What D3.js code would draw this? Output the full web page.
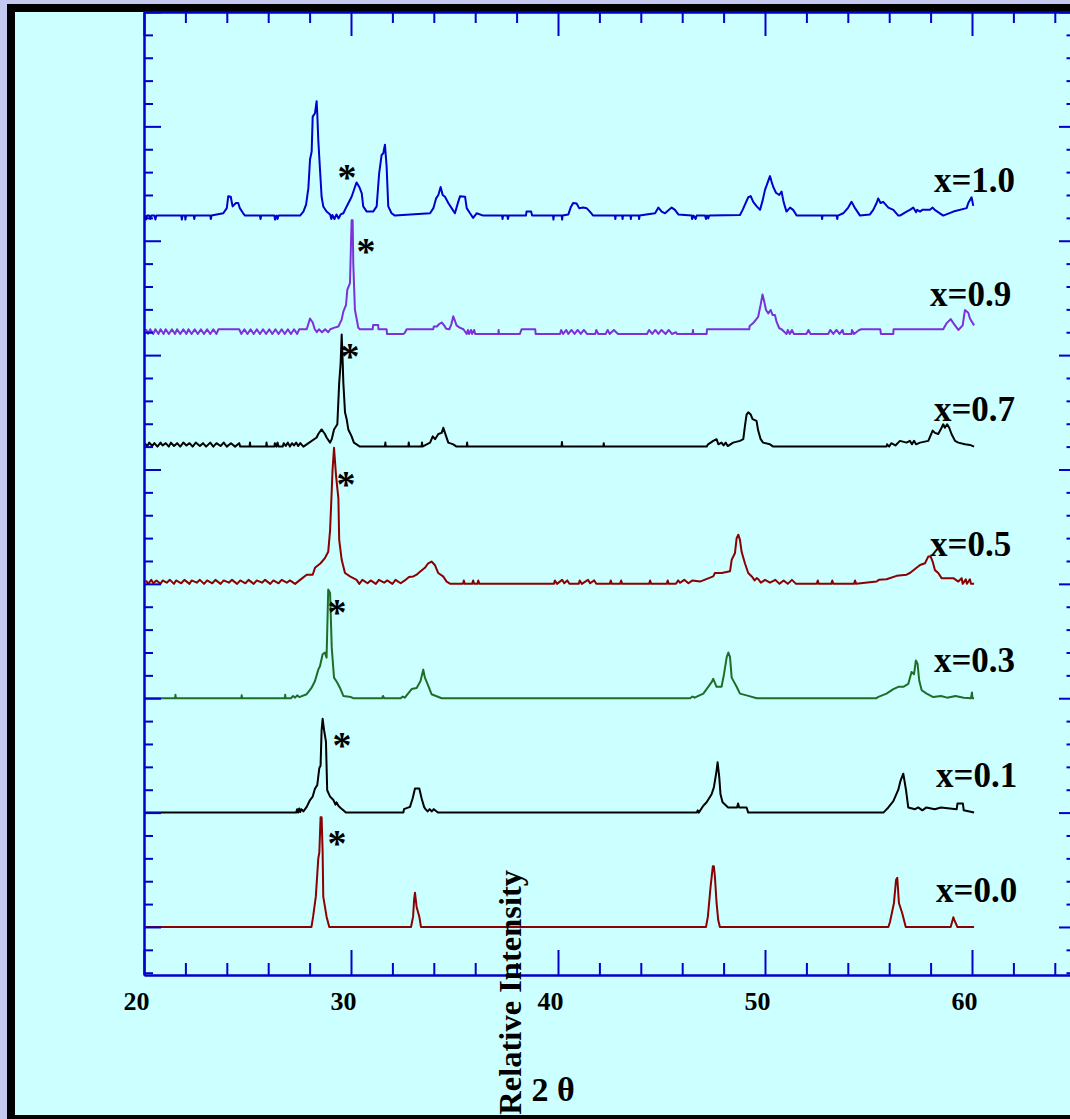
<!DOCTYPE html>
<html><head><meta charset="utf-8">
<script src="https://cdn.jsdelivr.net/npm/d3@7"></script>
<style>
html,body{margin:0;padding:0;background:#c6c9ef;overflow:hidden}
svg{display:block}
text{font-family:"Liberation Serif","Times New Roman",serif;}
</style></head><body>
<svg id="c" width="1070" height="1119"></svg>
<script>
// ---------- data ----------
const compositions = ["x=0.0","x=0.1","x=0.3","x=0.5","x=0.7","x=0.9","x=1.0"];
const offsets = [0, 1, 2, 3, 4.2, 5.2, 6.22];
const xTickLabels = [20, 30, 40, 50, 60];
const labelAt = [58.26, 58.26, 58.16, 57.97, 58.16, 57.97, 58.16];
const labelLift = [0.22, 0.22, 0.23, 0.245, 0.22, 0.23, 0.21];
const starAt = [[29.32,0.76],[29.57,0.615],[29.32,0.78],[29.76,0.90],[29.95,0.815],[30.72,0.74],[29.81,0.36]];

const xrd00 = [[20.05,0],[28.09,0],[28.17,0.09],[28.3,0.265],[28.42,0.6],[28.47,0.65],[28.53,0.96],[28.58,0.96],[28.63,0.65],[28.66,0.265],[28.82,0.09],[28.95,0],
[32.9,0],[33.0,0.09],[33.05,0.24],[33.09,0.3],[33.17,0.175],[33.3,0.09],[33.38,0],
[47.15,0],[47.24,0.09],[47.37,0.35],[47.48,0.53],[47.53,0.53],[47.58,0.44],[47.66,0.21],[47.74,0.06],[47.82,0],
[55.96,0],[56.04,0.045],[56.23,0.21],[56.33,0.41],[56.39,0.43],[56.47,0.21],[56.63,0.12],[56.8,0],
[58.97,0],[59.1,0.085],[59.15,0.06],[59.29,0],[60.1,0]];

const xrd01 = [[20.05,0],[27.35,0],[27.4,0.03],[27.45,0],[27.5,0.035],[27.55,0.005],[27.6,0.03],[27.7,0.01],[27.86,0.05],[28.02,0.11],[28.15,0.14],[28.26,0.21],[28.37,0.24],[28.47,0.39],[28.53,0.41],[28.58,0.72],[28.63,0.82],[28.7,0.72],[28.79,0.62],[28.85,0.195],[28.99,0.14],[29.15,0.11],[29.25,0.07],[29.3,0.09],[29.39,0.06],[29.5,0.04],[29.63,0.02],[29.75,0],
[32.53,0],[32.56,0.03],[32.85,0.05],[32.98,0.125],[33.09,0.21],[33.3,0.21],[33.41,0.125],[33.53,0.05],[33.6,0.03],[33.7,0.01],[33.8,0.03],[33.9,0.01],[34.0,0.03],[34.2,0],
[46.7,0],[46.75,0.02],[46.8,0],[47.02,0.06],[47.18,0.09],[47.42,0.16],[47.53,0.22],[47.66,0.365],[47.71,0.44],[47.79,0.31],[47.85,0.16],[47.95,0.09],[48.22,0.045],[48.65,0.045],[48.7,0.08],[48.75,0.045],[49.11,0.045],[49.19,0],
[55.72,0],[55.8,0.015],[55.96,0.045],[56.2,0.1],[56.44,0.2],[56.55,0.28],[56.68,0.34],[56.81,0.2],[56.92,0.045],[57.25,0.03],[57.4,0.045],[57.6,0.02],[57.8,0.045],[58.2,0.03],[58.5,0.045],[59.26,0.03],[59.3,0.08],[59.56,0.08],[59.6,0.02],[60.1,0]];

const xrd03 = [[20.05,0],[21.5,0],[21.52,0.03],[21.54,0],[24.7,0],[24.72,0.025],[24.74,0],[26.8,0],[26.82,0.03],[26.84,0],[27.1,0],[27.2,0.02],[27.3,0.005],[27.4,0.025],[27.5,0.01],[27.86,0.035],[28.09,0.09],[28.26,0.15],[28.42,0.25],[28.5,0.28],[28.63,0.385],[28.74,0.4],[28.82,0.355],[28.9,0.95],[28.99,0.92],[29.07,0.44],[29.18,0.18],[29.34,0.135],[29.47,0.09],[29.63,0.02],[30.0,0.01],[30.1,0],[31.5,0],[31.55,0.02],[31.6,0],[32.4,0],[32.5,0.015],[32.6,0.005],
[32.93,0.08],[33.17,0.09],[33.36,0.15],[33.49,0.25],[33.57,0.18],[33.73,0.11],[33.89,0.035],[34.38,0],
[46.38,0],[46.5,0.015],[46.6,0.005],[47.02,0.04],[47.18,0.08],[47.42,0.14],[47.5,0.17],[47.66,0.1],[47.9,0.1],[48.02,0.21],[48.15,0.36],[48.23,0.4],[48.31,0.36],[48.39,0.18],[48.63,0.1],[48.79,0.04],[49.11,0.025],[49.6,0],
[55.39,0],[55.45,0.01],[55.87,0.04],[56.2,0.08],[56.44,0.1],[56.68,0.1],[56.92,0.125],[57.08,0.23],[57.2,0.21],[57.29,0.33],[57.37,0.3],[57.45,0.155],[57.57,0.07],[57.81,0.04],[58.13,0.01],[58.5,0.02],[58.8,0.005],[59.2,0.02],[59.6,0.005],[59.95,0],[60.0,0.05],[60.02,0],[60.1,0]];

const xrd05 = [[20.1,0.03],[20.2,0],[20.35,0.035],[20.45,0.005],[20.6,0.03],[20.8,0],[20.9,0.03],[21.1,0.01],[21.25,0.035],[21.45,0],[21.55,0.03],[21.8,0.005],[21.95,0.035],[22.2,0],[22.3,0.03],[22.55,0.01],[22.7,0.035],[22.9,0],[23.05,0.03],[23.3,0.005],[23.45,0.035],[23.7,0],[23.85,0.03],[24.1,0.01],[24.25,0.035],[24.5,0],[24.65,0.03],[24.9,0.005],[25.05,0.035],[25.3,0],[25.45,0.03],[25.7,0.01],[25.85,0.035],[26.1,0],[26.25,0.03],[26.5,0.005],[26.65,0.035],[26.9,0.01],[27.05,0.03],[27.3,0],[27.54,0.035],[27.86,0.08],[28.15,0.08],[28.26,0.14],[28.53,0.18],[28.74,0.225],[28.9,0.28],[28.99,0.47],[29.07,0.82],[29.11,1.0],[29.18,1.19],[29.28,0.94],[29.39,0.75],[29.43,0.385],[29.55,0.21],[29.71,0.095],[29.95,0.065],[30.27,0.035],
[30.4,0],[30.55,0.035],[30.8,0.005],[30.95,0.03],[31.2,0],[31.35,0.035],[31.6,0.01],[31.75,0.03],[32.0,0],[32.15,0.035],[32.4,0.005],[32.6,0.03],[32.8,0.06],[33.01,0.065],[33.17,0.08],[33.33,0.105],[33.57,0.14],[33.73,0.18],[33.89,0.195],[34.05,0.165],[34.21,0.095],[34.45,0.065],[34.62,0.02],[34.8,0],[35.41,0],[35.45,0.03],[35.5,0],[35.85,0],[35.9,0.03],[35.95,0],[36.1,0],[36.15,0.03],[36.2,0],
[39.8,0],[39.85,0.03],[39.95,0],[40.2,0.035],[40.3,0.005],[40.45,0.03],[40.55,0],[41.0,0],[41.05,0.03],[41.15,0],[41.45,0.035],[41.55,0.005],[41.75,0.03],[41.85,0],[42.5,0],[42.55,0.03],[42.6,0],[43.0,0],[43.05,0.03],[43.1,0],
[44.4,0],[44.45,0.03],[44.5,0],[45.25,0],[45.3,0.03],[45.35,0],[45.7,0],[45.8,0.03],[45.9,0.01],[46.1,0.035],[46.3,0.005],[46.5,0.03],[46.86,0.02],[47.5,0.065],[47.58,0.095],[47.91,0.095],[48.31,0.11],[48.39,0.21],[48.55,0.27],[48.63,0.4],[48.71,0.43],[48.79,0.385],[48.87,0.28],[49.03,0.18],[49.19,0.095],[49.36,0.065],[49.5,0.03],[49.6,0.05],[49.68,0.04],[49.8,0.01],[50.0,0.035],[50.24,0.01],[50.5,0.035],[50.7,0],[50.9,0.03],[51.1,0],[51.3,0.035],[51.5,0],[52.5,0],[52.55,0.03],[52.6,0],[53.2,0],[53.25,0.03],[53.3,0],[54.3,0],[54.35,0.03],[54.4,0],
[55.39,0.02],[55.5,0.035],[55.87,0.04],[56.36,0.07],[56.84,0.08],[57.0,0.095],[57.49,0.165],[57.73,0.18],[57.89,0.24],[58.0,0.24],[58.1,0.195],[58.21,0.12],[58.37,0.095],[58.53,0.05],[59.1,0.05],[59.34,0.02],[59.5,0.05],[59.55,0],[59.7,0.04],[59.75,0],[59.9,0.04],[59.95,0],[60.1,0]];

const xrd07 = [[20.05,0.03],[20.15,0],[20.25,0.035],[20.4,0.005],[20.5,0.03],[20.65,0],[20.8,0.035],[20.9,0.01],[21.05,0.03],[21.2,0],[21.3,0.035],[21.45,0.005],[21.6,0.03],[21.75,0],[21.9,0.035],[22.05,0.01],[22.2,0.03],[22.35,0],[22.5,0.035],[22.7,0.005],[22.85,0.03],[23.0,0],[23.2,0.035],[23.35,0],[23.5,0.03],[23.7,0.005],[23.85,0.035],[24.0,0],[24.2,0.03],[24.4,0],[24.6,0.03],[24.65,0],
[25.1,0],[25.12,0.035],[25.14,0],[25.9,0],[25.92,0.035],[25.94,0],[26.3,0],[26.32,0.03],[26.4,0],[26.45,0.035],[26.5,0],[26.7,0],[26.75,0.03],[26.85,0.005],[26.95,0.035],[27.05,0],[27.15,0.03],[27.25,0.01],[27.35,0.035],[27.45,0.005],[27.55,0.03],[27.7,0],[27.86,0.02],[28.34,0.08],[28.42,0.11],[28.58,0.15],[28.74,0.11],[28.82,0.08],[28.99,0.035],[29.07,0.065],[29.18,0.15],[29.34,0.195],[29.43,0.56],[29.5,0.73],[29.55,0.98],[29.6,0.73],[29.63,0.56],[29.71,0.3],[29.79,0.24],[29.87,0.15],[30.03,0.09],[30.14,0.035],[30.27,0.02],[30.43,0],
[31.64,0],[31.66,0.035],[31.68,0],[32.77,0],[32.79,0.035],[32.81,0],[33.41,0],[33.43,0.035],[33.45,0],
[33.82,0.035],[33.95,0.09],[34.06,0.065],[34.22,0.11],[34.38,0.12],[34.46,0.165],[34.54,0.12],[34.7,0.035],[34.94,0.02],[35.1,0],[35.59,0],[35.61,0.035],[35.63,0],
[40.17,0],[40.19,0.04],[40.21,0],[42.19,0],[42.21,0.03],[42.23,0],[47.18,0],[47.25,0.02],[47.5,0.05],[47.66,0.065],[47.75,0.02],[47.9,0.035],[48.0,0.01],[48.1,0.035],[48.2,0.005],[48.46,0.035],[48.79,0.05],[48.95,0.065],[49.03,0.18],[49.11,0.28],[49.19,0.3],[49.31,0.28],[49.4,0.24],[49.59,0.225],[49.67,0.14],[49.79,0.065],[49.91,0.035],[50.24,0.02],[50.4,0],
[55.87,0],[55.9,0.02],[56.0,0],[56.1,0.03],[56.3,0.01],[56.52,0.05],[56.84,0.035],[57.0,0.05],[57.1,0.02],[57.2,0.05],[57.3,0.02],[57.49,0.035],[57.89,0.05],[58.1,0.14],[58.21,0.12],[58.37,0.11],[58.53,0.165],[58.61,0.195],[58.69,0.165],[58.8,0.195],[58.9,0.165],[59.01,0.11],[59.18,0.05],[59.34,0.035],[59.66,0.02],[59.9,0.015],[60.1,0]];

const xrd09 = [[20.1,0.026],[20.2,-0.015],[20.3,0.026],[20.45,-0.015],[20.55,0.026],[20.7,-0.015],[20.8,0.026],[20.95,-0.015],[21.05,0.026],[21.2,-0.015],[21.35,0.026],[21.5,-0.015],[21.6,0.026],[21.75,-0.015],[21.9,0.026],[22.05,-0.015],[22.15,0.026],[22.3,-0.015],[22.45,0.026],[22.6,-0.015],[22.75,0.026],[22.9,-0.015],[23.05,0.026],[23.2,-0.015],[23.35,0.026],[23.5,-0.015],[23.6,0.026],[24.6,0.026],[24.7,-0.015],[24.85,0.026],[25.0,-0.015],[25.15,0.026],[25.3,-0.015],[25.45,0.026],[25.6,-0.015],[25.75,0.026],[25.9,-0.015],[26.05,0.026],[26.2,-0.015],[26.35,0.026],[26.5,-0.015],[26.65,0.026],[26.8,-0.015],[26.95,0.026],[27.1,-0.015],[27.25,0.026],[27.4,-0.015],[27.5,0.026],[27.86,0.026],[28.02,0.12],[28.15,0.085],[28.25,0.026],[28.35,0],[28.45,0.026],[28.6,0],[28.75,0.026],[28.9,0],[29.0,0.026],[29.2,0.04],[29.39,0.05],[29.55,0.11],[29.63,0.18],[29.76,0.24],[29.82,0.37],[29.95,0.43],[30.03,0.98],[30.08,0.98],[30.11,0.6],[30.19,0.195],[30.27,0.12],[30.35,0.04],[30.43,0.026],
[31.05,0.026],[31.07,0.064],[31.31,0.064],[31.33,0.026],[31.72,0.026],[31.74,-0.015],[32.53,-0.015],[32.6,-0.005],[32.69,0.026],[33.97,0.026],[34.0,0.05],[34.15,0.05],[34.25,0.07],[34.38,0.085],[34.5,0.06],[34.6,0.03],[34.75,0.026],[34.85,0.07],[34.94,0.14],[35.0,0.11],[35.1,0.06],[35.25,0.04],[35.43,0.026],[35.59,-0.015],[35.65,0.02],[35.7,-0.015],[35.8,0.02],[35.85,-0.015],[35.95,0.02],[36.0,-0.015],[37.12,-0.015],[37.13,0.02],[37.15,-0.015],[38.16,-0.015],[38.24,0.026],
[38.9,0.026],[38.92,-0.015],[40.1,-0.015],[40.15,0.02],[40.25,-0.015],[40.4,0.02],[40.5,-0.015],[40.65,0.02],[40.8,-0.015],[40.95,0.02],[41.1,-0.015],[41.25,0.02],[41.4,-0.015],[41.8,-0.015],[41.85,0.02],[41.95,-0.015],[42.3,-0.015],[42.4,0.02],[42.5,-0.015],[42.7,0.02],[42.9,-0.015],[44.3,-0.015],[44.4,0.02],[44.55,-0.015],[44.7,0.02],[44.85,-0.015],[45.0,0.02],[45.2,-0.015],[45.35,0.02],[45.5,-0.015],[45.7,0],[45.75,-0.015],[46.5,-0.015],[46.52,0.02],[46.54,-0.015],[47.18,-0.015],[47.2,0.026],
[49.24,0.026],[49.26,0.055],[49.43,0.08],[49.67,0.135],[49.79,0.24],[49.88,0.33],[49.95,0.28],[50.05,0.195],[50.16,0.165],[50.27,0.195],[50.37,0.15],[50.48,0.15],[50.56,0.09],[50.69,0.035],[50.8,0.026],[51.04,-0.015],[51.1,0.02],[51.2,-0.015],[51.3,0.02],[51.4,-0.015],[52.0,-0.015],[52.1,0.02],[52.2,-0.015],[53.06,-0.015],[53.15,0.02],[53.3,-0.015],[53.45,0.02],[53.6,-0.015],[53.75,0.02],[53.8,-0.015],[54.18,-0.015],[54.2,0.02],[54.3,-0.015],[54.55,0.02],[54.66,0.026],[55.57,0.026],[55.6,-0.015],[56.2,-0.015],[56.21,0.026],
[58.61,0.026],[58.78,0.08],[58.97,0.115],[59.1,0.08],[59.34,0.02],[59.55,0.06],[59.66,0.195],[59.82,0.17],[59.9,0.12],[60.1,0.06]];

const xrd10 = [[20.05,0],[20.1,-0.035],[20.15,0],[20.25,0],[20.3,-0.03],[20.35,0],[20.5,0],[20.55,-0.035],[20.6,0],[21.8,0],[21.83,-0.035],[21.86,0],[21.98,0],[22.0,-0.035],[22.03,0],[22.4,0],[22.43,-0.03],[22.46,0],[23.2,0],[23.23,-0.03],[23.26,0],[23.83,0.02],[24.0,0.065],[24.07,0.17],[24.19,0.165],[24.28,0.08],[24.44,0.11],[24.55,0.11],[24.63,0.065],[24.79,0.02],[24.88,0],[25.6,0],[25.63,-0.03],[25.66,0],[26.3,0],[26.33,-0.035],[26.4,0],[26.45,-0.03],[26.5,0],
[27.54,0],[27.7,0.035],[27.83,0.095],[27.94,0.24],[28.02,0.49],[28.1,0.56],[28.15,0.865],[28.26,0.895],[28.34,1.0],[28.37,0.895],[28.42,0.66],[28.5,0.41],[28.58,0.165],[28.66,0.08],[28.82,0.035],[28.99,0.01],[29.05,-0.03],[29.1,0.005],[29.2,-0.03],[29.3,0.01],[29.4,-0.025],[29.5,0.01],[29.63,0.02],[29.79,0.08],[30.03,0.165],[30.19,0.25],[30.27,0.29],[30.4,0.25],[30.52,0.195],[30.59,0.08],[30.76,0.035],[31.07,0.035],[31.24,0.08],[31.36,0.37],[31.48,0.53],[31.56,0.545],[31.64,0.62],[31.72,0.43],[31.8,0.08],[31.96,0.02],[32.12,0],
[33.82,0.02],[33.98,0.065],[34.11,0.15],[34.22,0.18],[34.33,0.25],[34.43,0.18],[34.54,0.165],[34.7,0.11],[34.86,0.065],[35.02,0.02],[35.18,0.12],[35.27,0.17],[35.51,0.165],[35.59,0.065],[35.75,0.02],[35.9,-0.02],[36.07,0.02],[36.39,0],[37.3,0],[37.32,-0.03],[37.35,0],[37.55,0],[37.58,-0.03],[37.62,0],[38.45,0],[38.48,0.035],[38.7,0.035],[38.75,0],
[39.76,0],[39.78,-0.035],[39.8,0],[40.18,0],[40.2,-0.035],[40.22,0],[40.5,0.01],[40.61,0.07],[40.73,0.11],[40.9,0.105],[41.02,0.065],[41.22,0.07],[41.38,0.065],[41.54,0.035],[41.7,0],[42.75,0],[42.77,-0.03],[42.79,0],[43.1,0],[43.12,-0.03],[43.14,0],[43.5,0],[43.52,-0.03],[43.54,0],[43.9,0],[43.92,-0.03],[43.94,0],
[44.69,0.02],[44.85,0.07],[45.01,0.035],[45.17,0.02],[45.49,0.07],[45.65,0.05],[45.81,0.01],[46.46,0],[46.48,-0.03],[46.55,0],[46.65,-0.03],[46.7,0],[47.1,0],[47.15,-0.03],[47.2,0],[47.26,-0.025],[47.3,0],
[48.79,0.005],[48.92,0.05],[49.19,0.16],[49.31,0.17],[49.43,0.12],[49.6,0.08],[49.76,0.05],[49.89,0.135],[50.0,0.225],[50.11,0.28],[50.24,0.345],[50.32,0.295],[50.4,0.25],[50.53,0.2],[50.69,0.18],[50.8,0.21],[50.88,0.135],[50.96,0.08],[51.04,0.035],[51.21,0.07],[51.36,0.05],[51.53,0],[52.74,0],[52.76,-0.03],[52.78,0],[53.46,0],[53.49,-0.03],[53.52,0],
[53.78,0.02],[54.02,0.07],[54.18,0.12],[54.35,0.065],[54.59,0],[55.07,0.01],[55.23,0.05],[55.39,0.11],[55.47,0.15],[55.58,0.11],[55.71,0.12],[55.96,0.07],[56.2,0.05],[56.44,0],[56.52,0],[56.84,0.035],[57.0,0.05],[57.16,0.07],[57.3,0.03],[57.35,0.05],[57.49,0.035],[57.6,0.05],[57.97,0.05],[58.1,0.07],[58.2,0.05],[58.61,0],[59.1,0.035],[59.74,0.065],[59.82,0.11],[59.98,0.16],[60.06,0.085]];

const seriesData = [xrd00, xrd01, xrd03, xrd05, xrd07, xrd09, xrd10];

// ---------- styles ----------
const lineColors = ["#8b0000","#000000","#1e6e28","#8b0000","#000000","#7b32d9","#0000cc"];
const axisColor = "#0000cc";

// ---------- drawing ----------
const svg = d3.select("#c");
svg.append("rect").attr("x",7).attr("y",4).attr("width",1200).attr("height",1200).attr("fill","#000");
svg.append("rect").attr("x",15).attr("y",12).attr("width",1200).attr("height",1103).attr("fill","#ccffff");

const x = d3.scaleLinear().domain([20,65]).range([144,1075.5]);
const y = d3.scaleLinear().domain([-0.42,8]).range([975,12]);

const xMajor = d3.range(20, 61, 10);
const xMinor = d3.range(22, 65, 2).filter(v => v % 10 !== 0);
const yMajor = d3.range(0, 9, 1);
const yMinor = d3.range(-2, 41, 1).filter(k => k % 5 !== 0).map(k => k / 5);

// series
const line = d3.line().x(d => x(d[0]));
seriesData.forEach((data, i) => {
  svg.append("path")
    .attr("d", line.y(d => y(d[1] + offsets[i]))(data))
    .attr("fill","none").attr("stroke", lineColors[i])
    .attr("stroke-width", 2).attr("stroke-linejoin","round");
});

// axes
function styleAxis(g){
  g.selectAll(".domain").attr("stroke", axisColor).attr("stroke-width", 2);
  g.selectAll(".tick line").attr("stroke", axisColor).attr("stroke-width", 2);
}
const axes = [
  [d3.axisBottom(x).tickValues(xMajor).tickSizeInner(-25), "translate(0,975)", true],
  [d3.axisBottom(x).tickValues(xMinor).tickSizeInner(-12), "translate(0,975)", false],
  [d3.axisTop(x).tickValues(xMajor).tickSizeInner(-24), "translate(0,12)", false],
  [d3.axisTop(x).tickValues(xMinor).tickSizeInner(-11), "translate(0,12)", false],
  [d3.axisLeft(y).tickValues(yMajor).tickSizeInner(-17), "translate(144,0)", false],
  [d3.axisLeft(y).tickValues(yMinor).tickSizeInner(-9), "translate(144,0)", false],
  [d3.axisRight(y).tickValues(yMajor).tickSizeInner(-16.5), "translate(1075.5,0)", false],
  [d3.axisRight(y).tickValues(yMinor).tickSizeInner(-9), "translate(1075.5,0)", false]
];
axes.forEach(([ax, tr, labels]) => {
  ax.tickSizeOuter(0);
  if (labels) ax.tickPadding(17).tickFormat((d, i) => xTickLabels[i]);
  else ax.tickFormat("");
  const g = svg.append("g").attr("transform", tr).call(ax);
  styleAxis(g);
  if (labels) {
    g.selectAll(".tick text").attr("fill","#000").attr("x",-8)
      .style("font-family",'"Liberation Serif","Times New Roman",serif')
      .style("font-weight","bold").style("font-size","26px");
  }
});

// composition labels
compositions.forEach((t, i) => {
  svg.append("text").attr("x", x(labelAt[i])).attr("y", y(offsets[i] + labelLift[i]))
    .attr("font-size", 35).attr("font-weight","bold").attr("fill","#000").text(t);
});

// asterisks
starAt.forEach((s, i) => {
  svg.append("text").attr("x", x(s[0])).attr("y", y(offsets[i] + s[1]) + 16)
    .attr("text-anchor","middle").attr("font-size", 38).attr("font-weight","bold").attr("fill","#000").text("*");
});

// axis titles
svg.append("text").attr("x", 553).attr("y", 1101).attr("text-anchor","middle")
  .attr("font-size", 34).attr("font-weight","bold").attr("fill","#000").text("2 θ");
svg.append("text").attr("transform","translate(521,870) rotate(-90)").attr("text-anchor","end")
  .attr("font-size", 32.5).attr("font-weight","bold").attr("fill","#000").text("Relative Intensity");

// bottom frame
svg.append("rect").attr("x",7).attr("y",1115).attr("width",1200).attr("height",10).attr("fill","#000");
</script>
</body></html>
